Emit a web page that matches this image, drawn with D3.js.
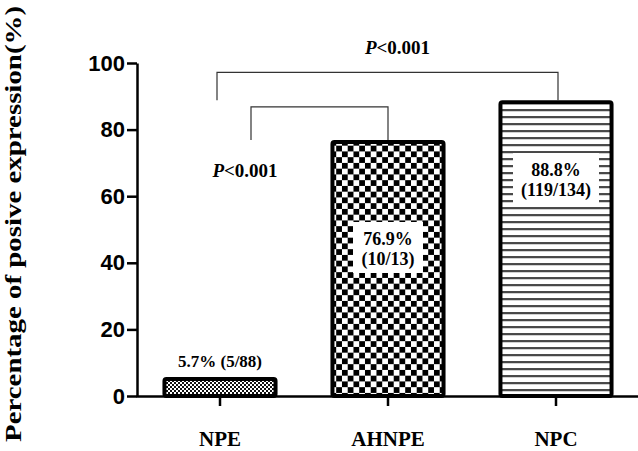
<!DOCTYPE html>
<html>
<head>
<meta charset="utf-8">
<script src="https://cdn.jsdelivr.net/npm/d3@7"></script>
<style>
  body { margin: 0; background: #fff; }
  .serif { font-family: "Liberation Serif", "Times New Roman", serif; font-weight: bold; }
  .sans { font-family: "Liberation Sans", Arial, sans-serif; font-weight: bold; }
</style>
</head>
<body>
<svg id="chart" width="638" height="451"></svg>
<script>
const categories = ["NPE", "AHNPE", "NPC"];
const values = [5.7, 76.9, 88.8];
const pctLabels = ["5.7%", "76.9%", "88.8%"];
const countLabels = ["(5/88)", "(10/13)", "(119/134)"];
const patterns = ["fine", "checker", "hlines"];
const yTicks = [0, 20, 40, 60, 80, 100];
const comparisons = [
  { from: "NPE", to: "NPC", p: "<0.001" },
  { from: "NPE", to: "AHNPE", p: "<0.001" },
];

const svg = d3.select("#chart");

const x = d3
  .scaleBand()
  .domain(categories)
  .range([136, 640])
  .paddingInner(0.315)
  .paddingOuter(0.1575);

const y = d3.scaleLinear().domain([0, 100]).range([396, 63]);
const bw = x.bandwidth();

// fill patterns
const defs = svg.append("defs");
const fine = defs.append("pattern").attr("id", "fine")
  .attr("patternUnits", "userSpaceOnUse").attr("width", 4).attr("height", 4);
fine.append("rect").attr("width", 4).attr("height", 4).attr("fill", "#fff");
fine.append("rect").attr("width", 2).attr("height", 2).attr("fill", "#111");
fine.append("rect").attr("x", 2).attr("y", 2).attr("width", 2).attr("height", 2).attr("fill", "#111");

const c = 5.75;
const checker = defs.append("pattern").attr("id", "checker")
  .attr("patternUnits", "userSpaceOnUse").attr("width", c * 2).attr("height", c * 2)
  .attr("x", x("AHNPE")).attr("y", y(values[1]));
checker.append("rect").attr("width", c * 2).attr("height", c * 2).attr("fill", "#fff");
checker.append("rect").attr("width", c).attr("height", c).attr("fill", "#000");
checker.append("rect").attr("x", c).attr("y", c).attr("width", c).attr("height", c).attr("fill", "#000");

const hl = defs.append("pattern").attr("id", "hlines")
  .attr("patternUnits", "userSpaceOnUse").attr("width", 10).attr("height", 7)
  .attr("y", y(values[2]) + 2);
hl.append("rect").attr("width", 10).attr("height", 7).attr("fill", "#fff");
hl.append("rect").attr("width", 10).attr("height", 1.6).attr("fill", "#000");

// bars
svg.selectAll("rect.bar")
  .data(categories)
  .enter()
  .append("rect")
  .attr("class", "bar")
  .attr("x", (d) => x(d) + 2)
  .attr("y", (d, i) => y(values[i]) + 2)
  .attr("width", bw - 4)
  .attr("height", (d, i) => y(0) - y(values[i]) - 2)
  .attr("rx", 2)
  .attr("fill", (d, i) => `url(#${patterns[i]})`)
  .attr("stroke", "#000")
  .attr("stroke-width", 4);

// value labels
svg.append("text")
  .attr("class", "serif")
  .attr("x", x("NPE") + bw / 2)
  .attr("y", y(values[0]) - 10)
  .attr("text-anchor", "middle")
  .attr("font-size", 17)
  .text(pctLabels[0] + " " + countLabels[0]);

// white boxes inside the tall bars (top, bottom in px)
const boxes = [
  { i: 1, top: 222, bottom: 273, w: 70 },
  { i: 2, top: 153, bottom: 206, w: 86 },
];
boxes.forEach((b) => {
  const cx = x(categories[b.i]) + bw / 2;
  svg.append("rect")
    .attr("x", cx - b.w / 2)
    .attr("y", b.top)
    .attr("width", b.w)
    .attr("height", b.bottom - b.top)
    .attr("fill", "#fff");
  svg.append("text")
    .attr("class", "serif")
    .attr("x", cx)
    .attr("y", b.top + 23)
    .attr("text-anchor", "middle")
    .attr("font-size", 18)
    .text(pctLabels[b.i]);
  svg.append("text")
    .attr("class", "serif")
    .attr("x", cx)
    .attr("y", b.top + 43)
    .attr("text-anchor", "middle")
    .attr("font-size", 18)
    .text(countLabels[b.i]);
});

// significance brackets
const bracketStyle = [
  { leftOff: -3, rise: 28, rightOff: 2, lx: 10, ly: -18 },
  { leftOff: 31, rise: 33, rightOff: 0, lx: -6, ly: 70 },
];
comparisons.forEach((cmp, k) => {
  const s = bracketStyle[k];
  const top = y(values[categories.indexOf(cmp.to)]);
  const lvl = top - s.rise;
  const x1 = x(cmp.from) + bw / 2 + s.leftOff;
  const x2 = x(cmp.to) + bw / 2 + s.rightOff;
  svg.append("path")
    .attr("d", `M${x1},${top}V${lvl}H${x2}V${top}`)
    .attr("fill", "none")
    .attr("stroke", "#333")
    .attr("stroke-width", 1.2);
  const t = svg.append("text")
    .attr("class", "serif")
    .attr("font-size", 19)
    .attr("text-anchor", "middle")
    .attr("x", k === 0 ? (x1 + x2) / 2 + s.lx : x1 + s.lx)
    .attr("y", lvl + s.ly);
  t.append("tspan").attr("font-style", "italic").text("P");
  t.append("tspan").text(cmp.p);
});

// axes
const yAxis = svg.append("g")
  .attr("transform", "translate(137,0)")
  .call(d3.axisLeft(y).tickValues(yTicks).tickSize(10).tickSizeOuter(0).tickPadding(2));
yAxis.select(".domain").attr("stroke-width", 2.5);
yAxis.selectAll(".tick line").attr("stroke-width", 2.5);
yAxis.selectAll(".tick text")
  .attr("class", "sans")
  .attr("font-size", 22)
  .attr("fill", "#000");

const xAxis = svg.append("g")
  .attr("transform", `translate(0,${y(0)})`)
  .call(d3.axisBottom(x).tickSize(10).tickSizeOuter(0).tickPadding(25));
xAxis.select(".domain").attr("stroke-width", 2.5);
xAxis.selectAll(".tick line").attr("stroke-width", 2.5);
xAxis.selectAll(".tick text")
  .attr("class", "serif")
  .attr("font-size", 21)
  .attr("fill", "#000");

svg.append("text")
  .attr("class", "serif")
  .attr("transform", "translate(21,224) rotate(-90)")
  .attr("text-anchor", "middle")
  .attr("font-size", 23)
  .attr("textLength", 436)
  .attr("lengthAdjust", "spacingAndGlyphs")
  .text("Percentage of posive expression(%)");
</script>
</body>
</html>
